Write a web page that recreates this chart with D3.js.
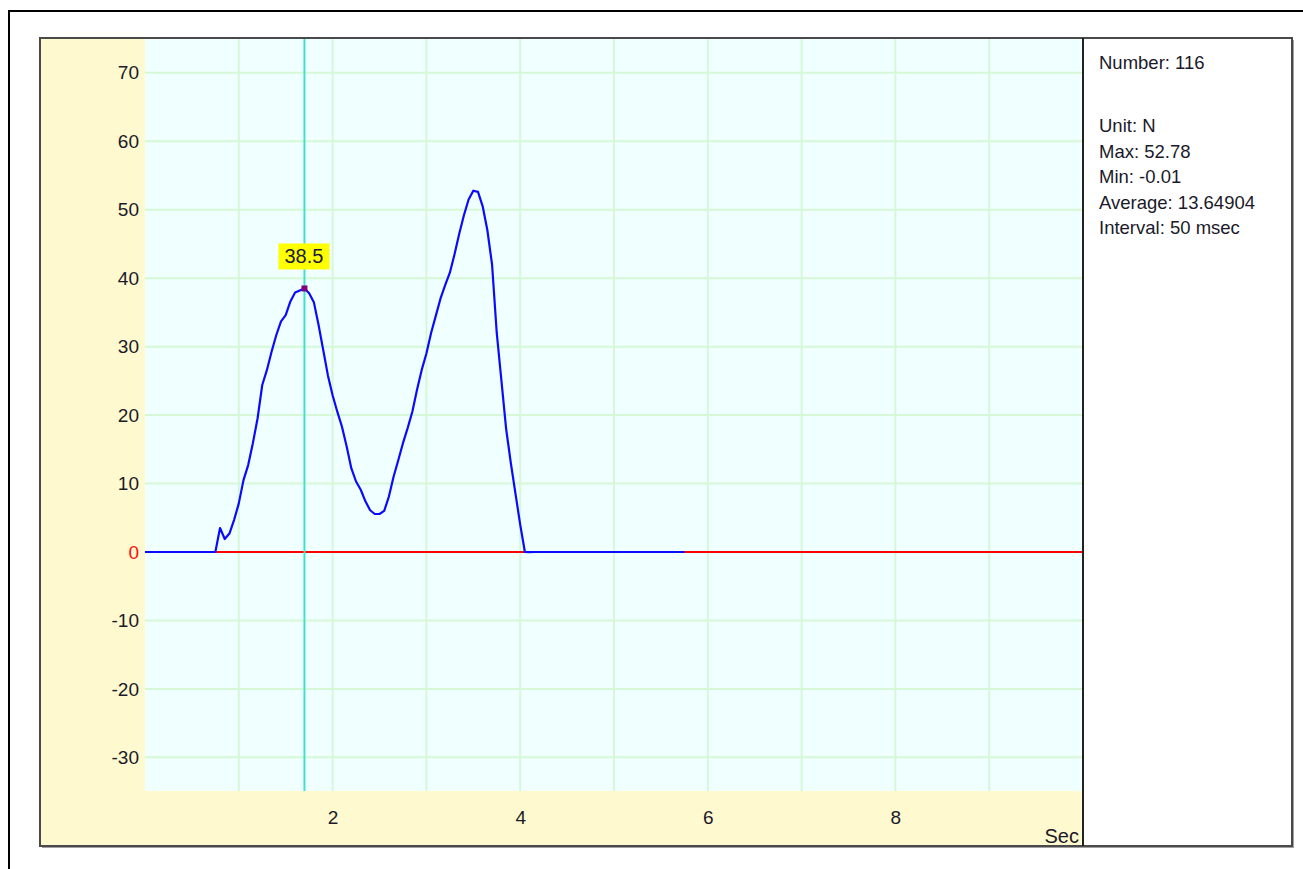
<!DOCTYPE html>
<html>
<head>
<meta charset="utf-8">
<script src="https://cdn.jsdelivr.net/npm/d3@7"></script>
<style>
  html, body { margin: 0; padding: 0; background: #ffffff; }
  svg { display: block; }
  text { font-family: "Liberation Sans", Arial, sans-serif; }
</style>
</head>
<body>
<script>
// ---------------- DATA ----------------
const intervalSec = 0.05;               // "Interval: 50 msec"
const forceValues = [
  0, 0, 0, 0, 0, 0, 0, 0, 0, 0, 0, 0, 0, 0, 0, 0,
  3.5, 1.9, 2.7, 4.7, 7.1, 10.5, 12.7, 15.9, 19.5, 24.4,
  26.6, 29.3, 31.7, 33.7, 34.6, 36.6, 37.9, 38.2, 38.5, 37.8,
  36.5, 33.2, 29.5, 25.8, 22.9, 20.5, 18.3, 15.4, 12.2, 10.3,
  9.1, 7.4, 6.1, 5.55, 5.55, 6.0, 8.1, 11.0, 13.4, 15.9,
  18.1, 20.5, 23.7, 26.6, 29.0, 32.0, 34.5, 37.0, 39.0, 40.8,
  43.5, 46.5, 49.2, 51.5, 52.78, 52.6, 50.5, 47.0, 42.0, 32.0,
  25.0, 18.0, 13.0, 8.5, 4.0, 0,
  -0.01, 0, 0, 0, 0, 0, 0, 0, 0, 0, 0, 0, 0, 0, 0, 0, 0,
  0, 0, 0, 0, 0, 0, 0, 0, 0, 0, 0, 0, 0, 0, 0, 0, 0
];
const yTickValues = [-30, -20, -10, 0, 10, 20, 30, 40, 50, 60, 70];
const xTickValues = [2, 4, 6, 8];
const xGridValues = [1, 2, 3, 4, 5, 6, 7, 8, 9];
const xUnitLabel = "Sec";
const cursorTime = 1.70;
const cursorValue = 38.5;
const statsLines = [
  "Number: 116",
  "",
  "",
  "Unit: N",
  "Max: 52.78",
  "Min: -0.01",
  "Average: 13.64904",
  "Interval: 50 msec"
];

// ---------------- LAYOUT ----------------
const W = 1303, H = 869;
const box = { x: 40, y: 38, r: 1292, b: 846 };
const plot = { l: 145, t: 38, r: 1083, b: 791 };

const svg = d3.select("body").append("svg")
  .attr("width", W).attr("height", H);

// outer window frame
svg.append("rect")
  .attr("x", 9).attr("y", 11).attr("width", 1320).attr("height", 900)
  .attr("fill", "#ffffff").attr("stroke", "#000000").attr("stroke-width", 2);

// shadow of chart box
svg.append("rect")
  .attr("x", box.x + 2).attr("y", box.y + 2)
  .attr("width", box.r - box.x).attr("height", box.b - box.y)
  .attr("fill", "#a0a0a0");

// chart box (yellow margin)
svg.append("rect")
  .attr("x", box.x).attr("y", box.y)
  .attr("width", box.r - box.x).attr("height", box.b - box.y)
  .attr("fill", "#fff9cf").attr("stroke", "#4a4a4a").attr("stroke-width", 2);

// right stats panel
svg.append("rect")
  .attr("x", plot.r).attr("y", box.y + 1)
  .attr("width", box.r - plot.r - 1).attr("height", box.b - box.y - 2)
  .attr("fill", "#ffffff");
svg.append("line")
  .attr("x1", plot.r).attr("x2", plot.r)
  .attr("y1", box.y).attr("y2", box.b)
  .attr("stroke", "#222222").attr("stroke-width", 2);

// plot background
svg.append("rect")
  .attr("x", plot.l).attr("y", plot.t + 1)
  .attr("width", plot.r - plot.l - 1).attr("height", plot.b - plot.t - 1)
  .attr("fill", "#f0ffff");

// ---------------- SCALES ----------------
const x = d3.scaleLinear().domain([0, 10]).range([plot.l, plot.r]);
const y = d3.scaleLinear().domain([-35, 75]).range([791.6, 38.6]);

// grid
const grid = svg.append("g");
grid.selectAll("line.h").data(yTickValues.filter(v => v !== 0)).join("line")
  .attr("class", "h")
  .attr("x1", plot.l).attr("x2", plot.r - 1)
  .attr("y1", d => y(d)).attr("y2", d => y(d))
  .attr("stroke", "#d6f8d6").attr("stroke-width", 2);
grid.selectAll("line.v").data(xGridValues).join("line")
  .attr("class", "v")
  .attr("x1", d => x(d)).attr("x2", d => x(d))
  .attr("y1", plot.t + 1).attr("y2", plot.b)
  .attr("stroke", "#d6f8d6").attr("stroke-width", 2);

// y axis labels
const yAxis = d3.axisLeft(y).tickValues(yTickValues).tickSize(0).tickPadding(0).tickFormat(d => String(d));
const gy = svg.append("g").attr("transform", `translate(${139},0)`).call(yAxis);
gy.select(".domain").remove();
gy.selectAll("text")
  .attr("font-size", 19)
  .attr("font-family", "'Liberation Sans', Arial, sans-serif")
  .attr("fill", d => d === 0 ? "#ff1010" : "#1a1a2a");

// x axis labels
const xAxis = d3.axisBottom(x).tickValues(xTickValues).tickSize(0).tickPadding(0).tickFormat(d => String(d));
const gx = svg.append("g").attr("transform", `translate(0,${810})`).call(xAxis);
gx.select(".domain").remove();
gx.selectAll("text")
  .attr("font-size", 19)
  .attr("font-family", "'Liberation Sans', Arial, sans-serif")
  .attr("fill", "#1a1a2a");

svg.append("text")
  .attr("x", plot.r - 4).attr("y", 843)
  .attr("text-anchor", "end")
  .attr("font-size", 20)
  .attr("fill", "#1a1a2a")
  .text(xUnitLabel);

// zero line
svg.append("line")
  .attr("x1", plot.l).attr("x2", plot.r - 1)
  .attr("y1", y(0)).attr("y2", y(0))
  .attr("stroke", "#ff0000").attr("stroke-width", 2)
  .attr("shape-rendering", "crispEdges");

// cursor line
svg.append("line")
  .attr("x1", x(cursorTime)).attr("x2", x(cursorTime))
  .attr("y1", plot.t + 1).attr("y2", plot.b)
  .attr("stroke", "#40e0d0").attr("stroke-width", 2);

// data line
const line = d3.line()
  .x((d, i) => x(i * intervalSec))
  .y(d => y(d));
svg.append("path")
  .datum(forceValues)
  .attr("d", line)
  .attr("fill", "none")
  .attr("stroke", "#0a0aff")
  .attr("stroke-width", 2.2)
  .attr("stroke-linejoin", "round");

// cursor marker
svg.append("rect")
  .attr("x", x(cursorTime) - 3).attr("y", y(cursorValue) - 3)
  .attr("width", 6).attr("height", 6)
  .attr("fill", "#800080");

// cursor value label
const lbl = svg.append("g");
lbl.append("rect")
  .attr("x", x(cursorTime) - 26).attr("y", y(cursorValue) - 45)
  .attr("width", 51).attr("height", 26)
  .attr("fill", "#ffff00");
lbl.append("text")
  .attr("x", x(cursorTime) - 0.5).attr("y", y(cursorValue) - 25)
  .attr("text-anchor", "middle")
  .attr("font-size", 20)
  .attr("fill", "#1a1a3a")
  .text(d3.format(".1f")(cursorValue));

// stats panel text
svg.append("g").selectAll("text").data(statsLines).join("text")
  .attr("x", 1099)
  .attr("y", (d, i) => i === 0 ? 69 : 132 + (i - 3) * 25.6)
  .attr("font-size", 18.5)
  .attr("fill", "#1a1a2a")
  .text(d => d);
</script>
</body>
</html>
